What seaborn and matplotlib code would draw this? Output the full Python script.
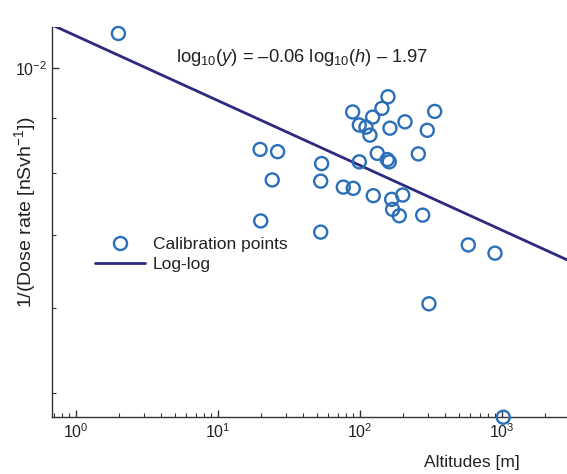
import numpy as np
import pandas as pd
import matplotlib
matplotlib.use("Agg")
import matplotlib.pyplot as plt
import seaborn as sns
from matplotlib.lines import Line2D

# ---- data ----
altitudes = [1.99, 19.8, 26.3, 24.1, 20.0, 53.7, 52.9, 52.9, 76.3, 89.7,
             88.8, 98.9, 110.2, 117.5, 122.8, 142.8, 157.5, 162.6, 207.5, 335.7,
             297.9, 98.9, 132.4, 155.7, 160.8, 257.5, 124.1, 167.2, 199.9, 169.8,
             189.2, 276.5, 579.0, 893.0, 306.0, 1021.0]
inv_dose = [0.01077, 0.00841, 0.00837, 0.00788, 0.00722, 0.00816, 0.00786, 0.00705, 0.00776, 0.00774,
            0.00911, 0.00886, 0.00882, 0.00867, 0.00901, 0.00918, 0.00941, 0.00880, 0.00892, 0.00912,
            0.00876, 0.00819, 0.00834, 0.00823, 0.00819, 0.00833, 0.00762, 0.00756, 0.00763, 0.00740,
            0.00730, 0.00731, 0.00686, 0.00674, 0.00605, 0.00475]
fit_slope = -0.06
fit_intercept = -1.97
x_range = [0.678, 2870.0]
y_range = [0.004752, 0.01092]

equation = "log$_{10}$($\\it{y}$) = \u20130.06 log$_{10}$($\\it{h}$) \u2013 1.97"
x_label = "Altitudes [m]"
y_label = "1/(Dose rate [nSvh$^{-1}$])"
legend_labels = ["Calibration points", "Log-log"]

marker_color = "#2a6fb8"
line_color = "#2c2a80"

sns.set_style("ticks")
plt.rcParams['font.family'] = ['Liberation Sans', 'DejaVu Sans']
plt.rcParams['mathtext.fontset'] = 'custom'
plt.rcParams['mathtext.rm'] = 'Liberation Sans'
plt.rcParams['mathtext.it'] = 'Liberation Sans:italic'
plt.rcParams['mathtext.bf'] = 'Liberation Sans:bold'

fig = plt.figure(figsize=(5.67, 4.74), dpi=100)
ax = fig.add_axes([52/567, 57/474, 1 - 52/567, (417-27)/474])

df = pd.DataFrame({"h": altitudes, "y": inv_dose})
fit_x = np.array(x_range)
fit_df = pd.DataFrame({"h": fit_x, "y": 10 ** (fit_slope * np.log10(fit_x) + fit_intercept)})

sns.lineplot(data=fit_df, x="h", y="y", ax=ax, color=line_color, linewidth=2.0, zorder=2)
sns.scatterplot(data=df, x="h", y="y", ax=ax, marker="o", s=88, facecolors="none",
                edgecolor=marker_color, linewidth=1.7, zorder=3, clip_on=False)

ax.set_xscale("log")
ax.set_yscale("log")
ax.set_xlim(x_range)
ax.set_ylim(y_range)

sns.despine(ax=ax, top=True, right=True)
for s in ["left", "bottom"]:
    ax.spines[s].set_color("#333333")
    ax.spines[s].set_linewidth(1.0)

ax.tick_params(axis="both", which="major", direction="in", length=5, width=1, colors="#333333",
               labelsize=11.5, labelcolor="#222222")
ax.tick_params(axis="both", which="minor", direction="in", length=3, width=0.8, colors="#333333")
ax.yaxis.set_major_locator(matplotlib.ticker.LogLocator(base=10))
ax.yaxis.set_minor_locator(matplotlib.ticker.LogLocator(base=10, subs=np.arange(2, 10)))
ax.yaxis.set_minor_formatter(matplotlib.ticker.NullFormatter())
ax.xaxis.set_minor_formatter(matplotlib.ticker.NullFormatter())

ax.set_xlabel("")
ax.set_ylabel("")
fig.text(472/567, 1 - 462/474, x_label, ha="center", va="center", fontsize=12.5, color="#222222")
fig.text(25/567, 1 - 212/474, y_label, ha="center", va="center", rotation=90, fontsize=14, color="#222222")
fig.text(302/567, 1 - 58/474, equation, ha="center", va="center", fontsize=13.2, color="#222222")

handles = [Line2D([], [], marker="o", linestyle="none", markersize=9.4, markerfacecolor="none",
                  markeredgecolor=marker_color, markeredgewidth=1.7),
           Line2D([], [], color=line_color, linewidth=2.0)]
leg = ax.legend(handles, legend_labels, loc="upper left", bbox_to_anchor=(86/567, 1 - 228/474),
                bbox_transform=fig.transFigure, frameon=False, fontsize=12.5, handlelength=2.9,
                handletextpad=0.45, labelspacing=0.3, borderpad=0)
for t in leg.get_texts():
    t.set_color("#222222")

fig.savefig("out.png", dpi=100)
